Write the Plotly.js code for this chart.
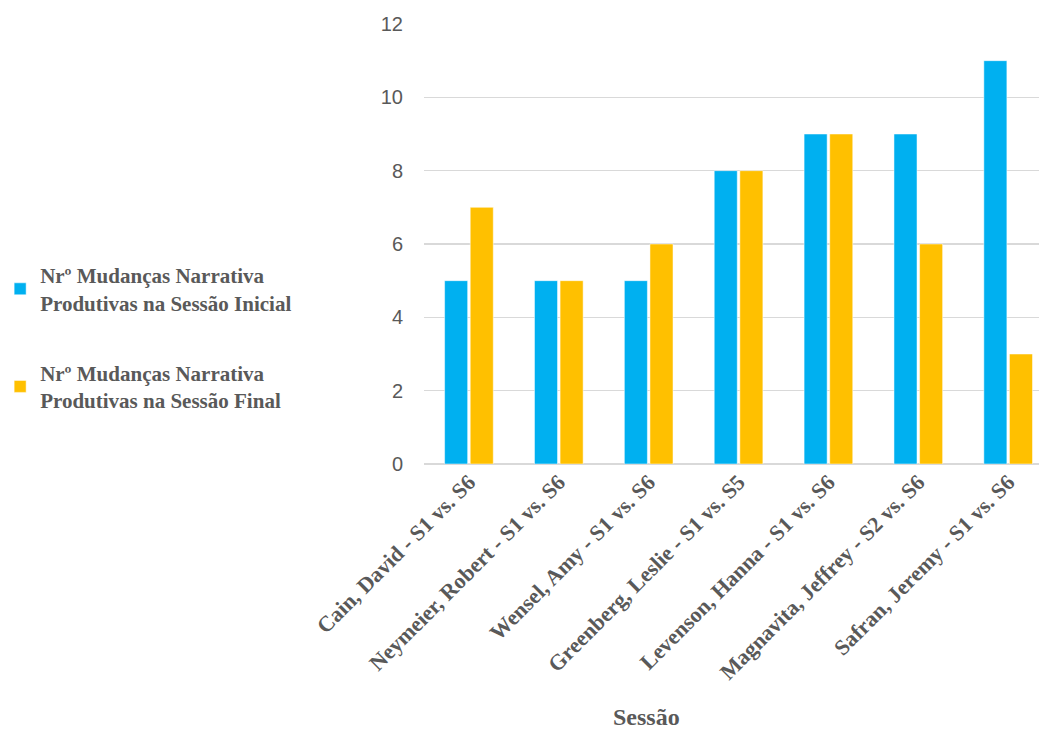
<!DOCTYPE html>
<html>
<head>
<meta charset="utf-8">
<script src="https://cdn.plot.ly/plotly-3.0.1.min.js"></script>
<style>
  html, body { margin: 0; padding: 0; background: #fff; }
  #chart { width: 1039px; height: 732px; }
</style>
</head>
<body>
<div id="chart"></div>
<script>
// Sessions compared (categories on the x axis)
const sessions = [
  "Cain, David - S1 vs. S6",
  "Neymeier, Robert - S1 vs. S6",
  "Wensel, Amy - S1 vs. S6",
  "Greenberg, Leslie - S1 vs. S5",
  "Levenson, Hanna - S1 vs. S6",
  "Magnavita, Jeffrey - S2 vs. S6",
  "Safran, Jeremy - S1 vs. S6"
];

// Number of productive narrative changes per session
const initialSession = [5, 5, 5, 8, 9, 9, 11];
const finalSession   = [7, 5, 6, 8, 9, 6, 3];

const seriesNames = [
  "Nrº Mudanças Narrativa<br>Produtivas na Sessão Inicial",
  "Nrº Mudanças Narrativa<br>Produtivas na Sessão Final"
];

const yTicks = [0, 2, 4, 6, 8, 10, 12];

const grey = "#595959";
const serifBold = "'Liberation Serif', 'Times New Roman', serif";

// plot area in pixels, used to place the legend and axis caption in paper units
const plotLeft = 418, plotWidth = 1039 - 418;
const plotTop = 24, plotHeight = 440;

const traces = [
  {
    type: "bar",
    name: seriesNames[0],
    x: sessions,
    y: initialSession,
    legendgroup: "a",
    marker: { color: "#00B0F0", line: { color: "#ffffff", width: 0.5 } }
  },
  {
    type: "bar",
    name: seriesNames[1],
    x: sessions,
    y: finalSession,
    legendgroup: "b",
    marker: { color: "#FFC000", line: { color: "#ffffff", width: 0.5 } }
  }
];

const layout = {
  width: 1039,
  height: 732,
  margin: { l: plotLeft, r: 0, t: plotTop, b: 732 - plotTop - plotHeight },
  paper_bgcolor: "#ffffff",
  plot_bgcolor: "#ffffff",
  barmode: "group",
  bargap: 0.43,
  bargroupgap: 0.1,
  showlegend: true,
  legend: {
    xref: "paper",
    yref: "paper",
    x: (-10 - plotLeft) / plotWidth,
    y: (plotTop + plotHeight - 255) / plotHeight,
    xanchor: "left",
    yanchor: "top",
    traceorder: "grouped",
    tracegroupgap: 40,
    itemwidth: 30,
    font: { family: serifBold, size: 21, color: grey, weight: "bold" },
    bgcolor: "rgba(0,0,0,0)"
  },
  xaxis: {
    type: "category",
    range: [-0.5, 6.343],
    tickangle: -45,
    tickfont: { family: serifBold, size: 22, color: grey, weight: "bold" },
    showgrid: false,
    showline: false,
    zeroline: false,
    ticks: "",
    fixedrange: true
  },
  yaxis: {
    range: [0, 12],
    tickvals: yTicks,
    ticktext: yTicks.map(String),
    tickfont: { family: "'Liberation Sans', Arial, sans-serif", size: 20, color: grey },
    ticklabelstandoff: 20,
    showgrid: true,
    gridcolor: "#d9d9d9",
    gridwidth: 1.5,
    zeroline: true,
    zerolinecolor: "#d9d9d9",
    zerolinewidth: 2,
    showline: false,
    ticks: "",
    fixedrange: true
  },
  annotations: [
    {
      text: "Sessão",
      xref: "paper",
      yref: "paper",
      x: (643 - plotLeft) / plotWidth,
      y: (plotTop + plotHeight - 717) / plotHeight,
      xanchor: "center",
      yanchor: "middle",
      showarrow: false,
      font: { family: serifBold, size: 24, color: grey, weight: "bold" }
    }
  ]
};

Plotly.newPlot("chart", traces, layout, { displayModeBar: false, staticPlot: true });
</script>
</body>
</html>
